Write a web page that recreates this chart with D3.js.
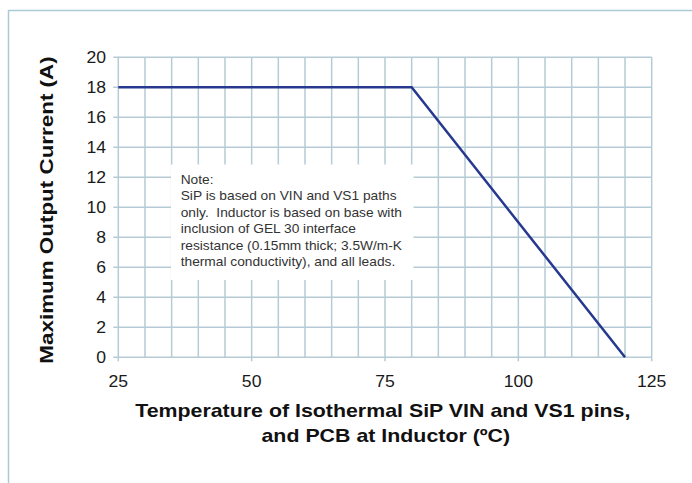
<!DOCTYPE html>
<html><head><meta charset="utf-8">
<script src="https://cdn.jsdelivr.net/npm/d3@7"></script>
<style>body{margin:0;background:#fff}svg{display:block}</style>
</head><body>
<svg id="c" width="692" height="483"></svg>
<script>
const temperature = [25, 80, 120];
const current = [18, 18, 0];
const xTicks = [25, 50, 75, 100, 125];
const yTicks = [0, 2, 4, 6, 8, 10, 12, 14, 16, 18, 20];
const xGrid = d3.range(25, 126, 5);
const noteLines = ["Note:", "SiP is based on VIN and VS1 paths", "only.  Inductor is based on base with", "inclusion of GEL 30 interface", "resistance (0.15mm thick; 3.5W/m-K", "thermal conductivity), and all leads."];
const xTitle = ["Temperature of Isothermal SiP VIN and VS1 pins,", "and PCB at Inductor (\u00baC)"];
const yTitle = "Maximum Output Current (A)";

const svg = d3.select("#c");
const font = "Liberation Sans, Arial, sans-serif";
const L = 118.3, R = 651.7, T = 57.3, B = 357.3;
const x = d3.scaleLinear().domain([25, 125]).range([L, R]);
const y = d3.scaleLinear().domain([0, 20]).range([B, T]);
const gridC = "#b6cbd5";

// outer frame
svg.append("path").attr("d", "M8.5,483V10.5H692").attr("fill", "none").attr("stroke", "#a9c9d3").attr("stroke-width", 1.5);

const g = svg.append("g");
g.selectAll("line.vg").data(xGrid).join("line")
  .attr("x1", d => x(d)).attr("x2", d => x(d)).attr("y1", T).attr("y2", B)
  .attr("stroke", gridC).attr("stroke-width", 1.5);
g.selectAll("line.hg").data(yTicks).join("line")
  .attr("x1", L - 5).attr("x2", R).attr("y1", d => y(d)).attr("y2", d => y(d))
  .attr("stroke", gridC).attr("stroke-width", 1.5);
g.selectAll("line.xt").data(xTicks).join("line")
  .attr("x1", d => x(d)).attr("x2", d => x(d)).attr("y1", B).attr("y2", B + 4)
  .attr("stroke", gridC).attr("stroke-width", 1.5);

// note box
svg.append("rect").attr("x", 171).attr("y", 164.5).attr("width", 242.5).attr("height", 115.5).attr("fill", "#fff");
svg.append("g").selectAll("text").data(noteLines).join("text")
  .attr("transform", (d, i) => `translate(180.7,${184 + i * 16.4}) scale(1.1,1)`)
  .attr("xml:space", "preserve").style("white-space", "pre")
  .attr("font-family", font).attr("font-size", 12.5).attr("fill", "#333").text(d => d);

// tick labels
svg.append("g").selectAll("text").data(yTicks).join("text")
  .attr("transform", d => `translate(106,${y(d) + 5.8}) scale(1.1,1)`).attr("text-anchor", "end")
  .attr("font-family", font).attr("font-size", 16).attr("fill", "#1a1a1a").text(d => d);
svg.append("g").selectAll("text").data(xTicks).join("text")
  .attr("transform", d => `translate(${x(d)},387.3) scale(1.1,1)`).attr("text-anchor", "middle")
  .attr("font-family", font).attr("font-size", 16).attr("fill", "#1a1a1a").text(d => d);

// line
const line = d3.line().x(d => x(d[0])).y(d => y(d[1]));
svg.append("path").datum(temperature.map((t, i) => [t, current[i]]))
  .attr("d", line).attr("fill", "none").attr("stroke", "#26398f").attr("stroke-width", 2.5);

// titles
svg.append("g").selectAll("text").data(xTitle).join("text")
  .attr("transform", (d, i) => `translate(${i ? 385.8 : 382.8},${416.7 + i * 25.3}) scale(1.207,1)`)
  .attr("font-family", font).attr("font-size", 17.7).attr("font-weight", "bold").attr("fill", "#111")
  .attr("text-anchor", "middle").text(d => d);
svg.append("text").attr("transform", "translate(53.3,210) rotate(-90) scale(1.245,1)")
  .attr("font-family", font).attr("font-size", 18).attr("font-weight", "bold").attr("fill", "#111")
  .attr("text-anchor", "middle").text(yTitle);
</script>
</body></html>
